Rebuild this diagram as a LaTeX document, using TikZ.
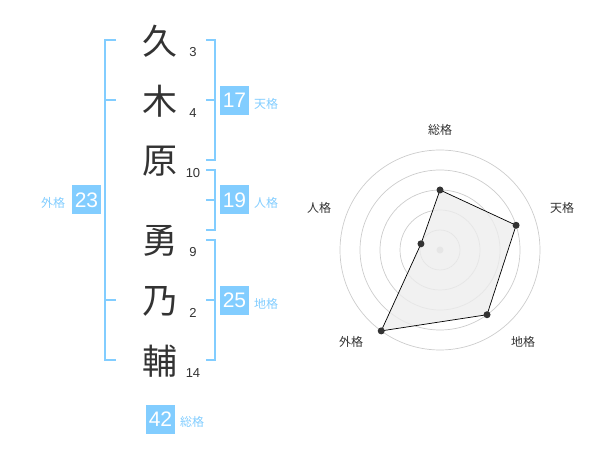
\documentclass[tikz,border=0pt]{standalone}
\usepackage{fontspec}
\setmainfont{Noto Sans CJK JP}
\newfontfamily\numfont{Liberation Sans}
\definecolor{kblue}{RGB}{130,205,255}
\definecolor{kdark}{RGB}{51,51,51}
\definecolor{kgrid}{RGB}{204,204,204}
\tikzset{
  kanji/.style={font=\fontsize{35}{35}\selectfont, text=kdark, inner sep=0pt},
  strokes/.style={font=\numfont\fontsize{13}{13}\selectfont, text=kdark, inner sep=0pt},
  kbox/.style={fill=kblue, text=white, font=\numfont\fontsize{21}{21}\selectfont, minimum width=29pt, minimum height=29pt, inner sep=0pt},
  klabel/.style={font=\fontsize{12}{12}\selectfont, text=kblue, inner sep=0pt},
  bracket/.style={draw=kblue, line width=2pt},
  rlabel/.style={font=\fontsize{12}{12}\selectfont, text=kdark, inner sep=0pt},
  ring/.style={draw=kgrid, line width=0.7pt},
  vdot/.style={circle, fill=kdark, inner sep=0pt, minimum size=7pt},
}
\begin{document}
\begin{tikzpicture}[x=1pt,y=-1pt]
\useasboundingbox (0,0) rectangle (600,470);
% characters
\node[kanji] (c1) at (160,41) {久};
\node[kanji] (c2) at (160,101) {木};
\node[kanji] (c3) at (160,161) {原};
\node[kanji] (c4) at (160,241) {勇};
\node[kanji] (c5) at (160,301) {乃};
\node[kanji] (c6) at (160,361) {輔};
% stroke counts
\node[strokes] (n1) at (193,52) {3};
\node[strokes] (n2) at (193,113) {4};
\node[strokes] (n3) at (193,173) {10};
\node[strokes] (n4) at (193,252) {9};
\node[strokes] (n5) at (193,313) {2};
\node[strokes] (n6) at (193,373) {14};
% left bracket (外格)
\draw[bracket] (116,40) -- (105,40) -- (105,360) -- (116,360);
\draw[bracket] (105,100) -- (116,100);
\draw[bracket] (105,300) -- (116,300);
\node[kbox] (b23) at (86.5,200) {23};
\node[klabel] (l23) at (53,203) {外格};
% 天格
\draw[bracket] (206,40) -- (215,40) -- (215,160) -- (206,160);
\draw[bracket] (206,100) -- (215,100);
\node[kbox] (b17) at (234.5,100.5) {17};
\node[klabel] (l17) at (266,104) {天格};
% 人格
\draw[bracket] (206,170) -- (215,170) -- (215,230) -- (206,230);
\draw[bracket] (206,200) -- (215,200);
\node[kbox] (b19) at (234.5,200) {19};
\node[klabel] (l19) at (266,203) {人格};
% 地格
\draw[bracket] (206,240) -- (215,240) -- (215,360) -- (206,360);
\draw[bracket] (206,300) -- (215,300);
\node[kbox] (b25) at (234.5,300.5) {25};
\node[klabel] (l25) at (266,304) {地格};
% 総格
\node[kbox] (b42) at (160.5,419) {42};
\node[klabel] (l42) at (192,422) {総格};
% radar
\begin{scope}[shift={(440,250)}, yscale=-1]
  \foreach \r in {20,40,60,80,100} \draw[ring] (0,0) circle (\r);
  \fill[kgrid] (0,0) circle (3.5);
  \filldraw[fill=black!7, fill opacity=0.8, draw=black, line width=0.7pt]
    (90:60) -- (18:80) -- (-54:80) -- (-126:100) -- (162:20) -- cycle;
  \node[vdot] (p1) at (90:60) {};
  \node[vdot] (p2) at (18:80) {};
  \node[vdot] (p3) at (-54:80) {};
  \node[vdot] (p4) at (-126:100) {};
  \node[vdot] (p5) at (162:20) {};
\end{scope}
\node[rlabel] (r1) at (440,130) {総格};
\node[rlabel] (r2) at (562,208) {天格};
\node[rlabel] (r3) at (523,342) {地格};
\node[rlabel] (r4) at (351,342) {外格};
\node[rlabel] (r5) at (319,208) {人格};
\end{tikzpicture}
\end{document}
